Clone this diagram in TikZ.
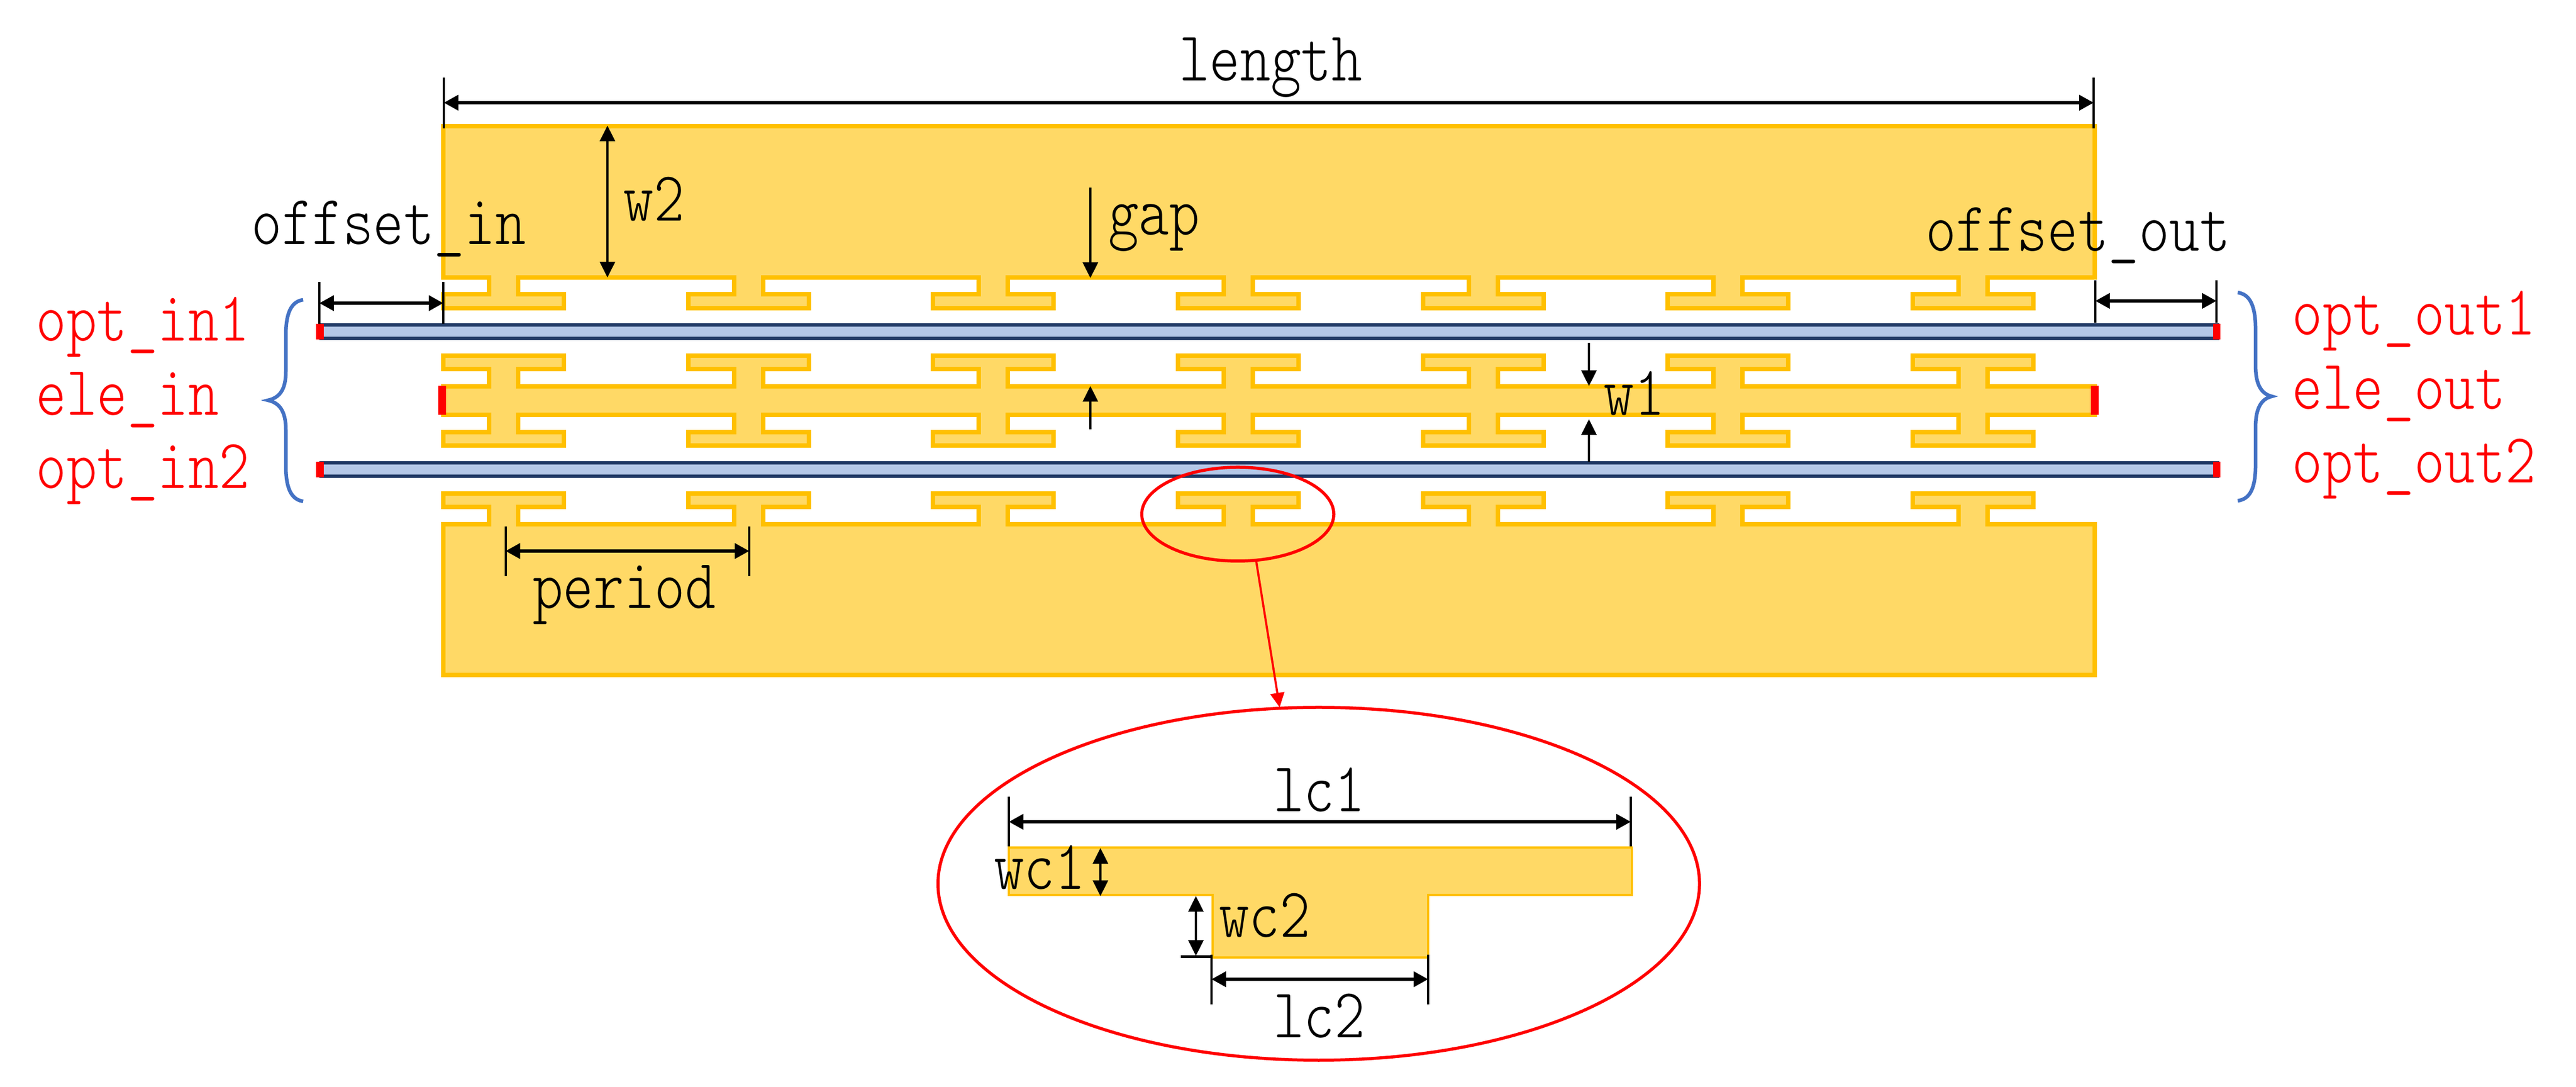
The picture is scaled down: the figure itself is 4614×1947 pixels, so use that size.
\documentclass[tikz,border=0pt]{standalone}
\usepackage{fontspec}
\setmonofont{Latin Modern Mono Light}
\usetikzlibrary{arrows.meta}
\definecolor{gfill}{HTML}{FFD966}
\definecolor{gline}{HTML}{FFC000}
\definecolor{wfill}{HTML}{B4C7E7}
\definecolor{wline}{HTML}{1F3864}
\definecolor{brc}{HTML}{4472C4}
\def\Pd{438.67}
\tikzset{
  x=0.1pt,y=-0.1pt,
  gold/.style={fill=gfill,draw=gline,line width=0.8pt,miter limit=4},
  guide/.style={fill=wfill,draw=wline,line width=0.6pt},
  port/.style={fill=red,draw=none},
  ext/.style={draw=black,line width=0.4pt},
  dim/.style={draw=black,line width=0.55pt,{Triangle[length=2.6pt,width=2.7pt]}-{Triangle[length=2.6pt,width=2.7pt]}},
  one/.style={draw=black,line width=0.38pt,-{Triangle[length=2.8pt,width=2.7pt]}},
  two/.style={draw=black,line width=0.38pt,{Triangle[length=2.8pt,width=2.7pt]}-{Triangle[length=2.8pt,width=2.7pt]}},
  lab/.style={font=\ttfamily\fontsize{12.6}{14}\selectfont,anchor=base,inner sep=0pt,xscale=.825,text=black},
  rlab/.style={lab,anchor=base west,text=red},
  brace/.style={draw=brc,line width=0.65pt,fill=none},
  ring/.style={draw=red,line width=0.55pt,fill=none},
}
\begin{document}
\begin{tikzpicture}
\path[fill=white,use as bounding box] (0,0) rectangle (4614,1947);
% top electrode
\draw[gold] (794,226) -- (3752,226) -- (3752,497)
  \foreach \i in {6,5,4,3,2,1,0}{
    -- ({928+\i*\Pd},497) -- ({928+\i*\Pd},527) -- ({1010+\i*\Pd},527) -- ({1010+\i*\Pd},552)
    -- ({794+\i*\Pd},552) -- ({794+\i*\Pd},527) -- ({876+\i*\Pd},527) -- ({876+\i*\Pd},497)}
  -- (794,497) -- cycle;
% centre electrode
\draw[gold] (794,692)
  \foreach \i in {0,1,2,3,4,5,6}{
    -- ({876+\i*\Pd},692) -- ({876+\i*\Pd},661) -- ({794+\i*\Pd},661) -- ({794+\i*\Pd},637)
    -- ({1010+\i*\Pd},637) -- ({1010+\i*\Pd},661) -- ({928+\i*\Pd},661) -- ({928+\i*\Pd},692)}
  -- (3752,692) -- (3752,743)
  \foreach \i in {6,5,4,3,2,1,0}{
    -- ({928+\i*\Pd},743) -- ({928+\i*\Pd},774) -- ({1010+\i*\Pd},774) -- ({1010+\i*\Pd},798)
    -- ({794+\i*\Pd},798) -- ({794+\i*\Pd},774) -- ({876+\i*\Pd},774) -- ({876+\i*\Pd},743)}
  -- (794,743) -- cycle;
% bottom electrode
\draw[gold] (794,939)
  \foreach \i in {0,1,2,3,4,5,6}{
    -- ({876+\i*\Pd},939) -- ({876+\i*\Pd},908) -- ({794+\i*\Pd},908) -- ({794+\i*\Pd},884)
    -- ({1010+\i*\Pd},884) -- ({1010+\i*\Pd},908) -- ({928+\i*\Pd},908) -- ({928+\i*\Pd},939)}
  -- (3752,939) -- (3752,1209.5) -- (794,1209.5) -- cycle;
% waveguides
\draw[guide] (575,582) rectangle (3972,606);
\draw[guide] (575,829) rectangle (3972,853);
% ports
\fill[port] (566,580) rectangle (580,608);
\fill[port] (566,827) rectangle (580,855);
\fill[port] (3964,580) rectangle (3977,608);
\fill[port] (3964,827) rectangle (3977,855);
\fill[port] (785,691) rectangle (799,743);
\fill[port] (3745,691) rectangle (3759,743);
% braces
\draw[brace] (543,537) .. controls (522,540) and (512,560) .. (512,600) -- (512,665)
  .. controls (512,695) and (503,712) .. (480,717)
  .. controls (503,722) and (512,740) .. (512,770) -- (512,835)
  .. controls (512,875) and (522,895) .. (543,898);
\draw[brace] (4008,524) .. controls (4030,527) and (4040,548) .. (4040,590) -- (4040,655)
  .. controls (4040,685) and (4048,705) .. (4069,710)
  .. controls (4048,715) and (4040,735) .. (4040,765) -- (4040,832)
  .. controls (4040,875) and (4030,894) .. (4008,897);
% length
\draw[ext] (795,139) -- (795,230);
\draw[ext] (3750,139) -- (3750,230);
\draw[dim] (795,184) -- (3750,184);
% offset_in
\draw[ext] (572,505) -- (572,580);
\draw[ext] (794,505) -- (794,580);
\draw[dim] (572,543) -- (794,543);
% offset_out
\draw[ext] (3753,502) -- (3753,578);
\draw[ext] (3970,502) -- (3970,578);
\draw[dim] (3753,539) -- (3970,539);
% w2, gap, w1
\draw[two] (1088,225) -- (1088,497);
\draw[one] (1953,336) -- (1953,498);
\draw[one] (2846,614) -- (2846,691.5);
\draw[one] (2846,827) -- (2846,751);
\draw[one] (1953,769) -- (1953,691.5);
% period
\draw[ext] (905.5,943) -- (905.5,1032);
\draw[ext] (1342,943) -- (1342,1032);
\draw[dim] (905.5,987) -- (1342,987);
% rings
\draw[ring] (2217,921) ellipse [x radius=172,y radius=84];
\draw[ring,line width=0.38pt,-{Triangle[length=2.6pt,width=2.5pt]}] (2250,1005) -- (2292,1267);
\draw[ring] (2362,1583) ellipse [x radius=682,y radius=316];
% detail T
\draw[gold,line width=0.4pt] (1807,1518) -- (2923,1518) -- (2923,1603) -- (2558,1603) -- (2558,1715)
  -- (2172,1715) -- (2172,1603) -- (1807,1603) -- cycle;
\draw[ext] (1807,1427) -- (1807,1516);
\draw[ext] (2921,1427) -- (2921,1516);
\draw[dim] (1807,1472) -- (2921,1472);
\draw[ext] (2170,1710) -- (2170,1799);
\draw[ext] (2558,1710) -- (2558,1799);
\draw[dim] (2170,1754) -- (2558,1754);
\draw[two] (1971,1519) -- (1971,1605);
\draw[two] (2142,1605) -- (2142,1712);
\draw[draw=black,line width=0.5pt] (2115,1714) -- (2170,1714);
% labels
\node[lab] (tlength) at (2276,145) {length};
\node[lab] (toffin) at (696,438) {offset\_in};
\node[lab] (toffout) at (3722,450) {offset\_out};
\node[lab] (tw2) at (1171,396) {w2};
\node[lab] (tgap) at (2067,421) {gap};
\node[lab] (tw1) at (2927,744) {w1};
\node[lab] (tperiod) at (1118,1090) {period};
\node[lab] (tlc1) at (2363,1454) {lc1};
\node[lab] (tlc2) at (2363,1859) {lc2};
\node[lab] (twc1) at (1862,1593) {wc1};
\node[lab] (twc2) at (2265,1679) {wc2};
\node[rlab] (ti1) at (63,611) {opt\_in1};
\node[rlab] (te1) at (63,744) {ele\_in};
\node[rlab] (ti2) at (63,875) {opt\_in2};
\node[rlab] (to1) at (4104,600) {opt\_out1};
\node[rlab] (te2) at (4104,733) {ele\_out};
\node[rlab] (to2) at (4104,865) {opt\_out2};
\end{tikzpicture}
\end{document}
